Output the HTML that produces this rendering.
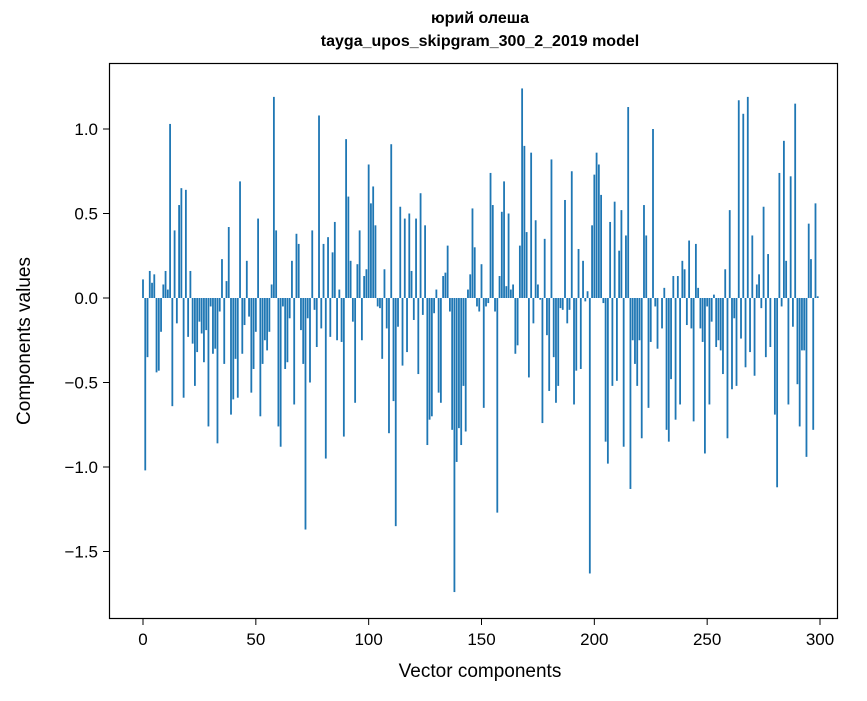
<!DOCTYPE html>
<html><head><meta charset="utf-8"><style>
body{margin:0;background:#fff;}
svg text{font-family:"Liberation Sans","DejaVu Sans",sans-serif;}
</style></head><body>
<svg id="chart" width="867" height="696" viewBox="0 0 867 696">
<rect x="0" y="0" width="867" height="696" fill="#fff"/>
<text x="480" y="23" text-anchor="middle" font-size="16" font-weight="bold">юрий олеша</text>
<text x="480" y="46" text-anchor="middle" font-size="16" font-weight="bold">tayga_upos_skipgram_300_2_2019 model</text>
<g id="bars"></g>
<g id="xticks"></g>
<g id="yticks"></g>
<rect x="109.5" y="63.5" width="728" height="555" fill="none" stroke="#000" stroke-width="1.2"/>
<text x="480" y="677" text-anchor="middle" font-size="19">Vector components</text>
<text transform="translate(30,341) rotate(-90)" text-anchor="middle" font-size="19">Components values</text>
</svg>
<script>
const values = [0.11,-1.02,-0.35,0.16,0.09,0.14,-0.44,-0.43,-0.2,0.08,0.16,0.05,1.03,-0.64,0.4,-0.15,0.55,0.65,-0.59,0.64,-0.23,0.16,-0.27,-0.52,-0.32,-0.14,-0.21,-0.38,-0.19,-0.76,-0.05,-0.33,-0.30,-0.86,-0.08,0.23,-0.39,0.10,0.42,-0.69,-0.60,-0.36,-0.59,0.69,-0.33,-0.16,0.22,-0.11,-0.56,-0.42,-0.20,0.47,-0.70,-0.39,-0.25,-0.31,-0.20,0.08,1.19,0.40,-0.76,-0.88,-0.05,-0.42,-0.38,-0.12,0.22,-0.63,0.38,0.32,-0.19,-0.39,-1.37,-0.12,-0.50,0.40,-0.07,-0.29,1.08,-0.18,0.32,-0.95,0.36,-0.23,0.27,0.45,-0.25,0.05,-0.26,-0.82,0.94,0.60,0.22,-0.14,-0.62,0.20,0.40,-0.25,0.13,0.17,0.79,0.56,0.66,0.43,-0.05,-0.06,-0.36,0.17,-0.18,-0.80,0.91,-0.61,-1.35,-0.17,0.54,-0.40,0.47,-0.32,0.50,0.16,-0.13,0.47,-0.45,0.62,-0.10,0.43,-0.87,-0.72,-0.70,-0.09,0.05,-0.56,-0.62,0.13,0.15,0.31,-0.08,-0.78,-1.74,-0.97,-0.77,-0.87,-0.52,-0.79,0.05,0.14,0.53,0.30,-0.05,-0.08,0.20,-0.65,-0.05,-0.03,0.74,0.55,-0.08,-1.27,0.13,0.51,0.69,0.07,0.50,0.05,0.08,-0.33,-0.28,0.31,1.24,0.90,0.39,-0.47,0.86,-0.15,0.46,0.08,-0.01,-0.74,0.35,-0.22,-0.55,0.82,-0.35,-0.62,-0.52,-0.06,-0.07,0.58,-0.15,-0.07,0.75,-0.63,-0.43,0.29,-0.42,0.22,-0.02,0.04,-1.63,0.43,0.73,0.86,0.79,0.61,-0.03,-0.85,-0.98,0.45,-0.52,0.57,-0.49,0.28,0.52,-0.88,0.37,1.13,-1.13,-0.25,-0.39,-0.52,-0.25,-0.83,0.55,0.37,-0.65,-0.26,1.0,-0.05,-0.30,0.0,-0.18,0.06,-0.78,-0.85,-0.48,0.13,-0.72,0.13,-0.63,0.22,0.17,-0.16,0.34,-0.18,-0.73,0.32,0.06,-0.18,-0.26,-0.92,-0.05,-0.63,-0.14,0.02,-0.29,-0.25,-0.31,-0.45,0.17,-0.83,0.52,-0.54,-0.12,-0.52,1.17,-0.24,1.09,-0.41,1.19,-0.32,0.37,-0.46,0.08,0.14,-0.06,0.54,-0.35,0.26,-0.29,0.0,-0.69,-1.12,0.74,-0.05,0.93,0.22,-0.63,0.72,-0.17,1.15,-0.51,-0.76,-0.31,-0.31,-0.94,0.44,0.23,-0.78,0.56,0.01];
const xTicks = [0,50,100,150,200,250,300];
const yTicks = [1.0,0.5,0.0,-0.5,-1.0,-1.5];
const yTickLabels = ["1.0","0.5","0.0","\u22120.5","\u22121.0","\u22121.5"];
const NS="http://www.w3.org/2000/svg";
function xs(v){return 143 + v*(677/300);}
function ys(v){return 298 - v*169;}
const bars=document.getElementById('bars');
values.forEach((v,i)=>{
  const r=document.createElementNS(NS,'rect');
  const x0=xs(i-0.4), x1=xs(i+0.4);
  r.setAttribute('x',x0);r.setAttribute('width',x1-x0);
  r.setAttribute('y',Math.min(ys(v),ys(0)));r.setAttribute('height',Math.abs(ys(v)-ys(0)));
  r.setAttribute('fill','#1f77b4');
  
  
  bars.appendChild(r);
});
const xt=document.getElementById('xticks');
xTicks.forEach(t=>{
  const l=document.createElementNS(NS,'line');
  l.setAttribute('x1',xs(t));l.setAttribute('x2',xs(t));l.setAttribute('y1',619);l.setAttribute('y2',625);l.setAttribute('stroke','#000');
  
  
  xt.appendChild(l);
  const tx=document.createElementNS(NS,'text');
  tx.setAttribute('x',xs(t));tx.setAttribute('y',645);tx.setAttribute('text-anchor','middle');tx.setAttribute('font-size','17');
  tx.textContent=t;
  
  
  xt.appendChild(tx);
});
const yt=document.getElementById('yticks');
yTicks.forEach((t,i)=>{
  const l=document.createElementNS(NS,'line');
  l.setAttribute('x1',103);l.setAttribute('x2',109);l.setAttribute('y1',ys(t));l.setAttribute('y2',ys(t));l.setAttribute('stroke','#000');
  
  
  yt.appendChild(l);
  const tx=document.createElementNS(NS,'text');
  tx.setAttribute('x',98);tx.setAttribute('y',ys(t)+6);tx.setAttribute('text-anchor','end');tx.setAttribute('font-size','17');
  tx.textContent=yTickLabels[i];
  
  
  yt.appendChild(tx);
});
</script>
</body></html>
